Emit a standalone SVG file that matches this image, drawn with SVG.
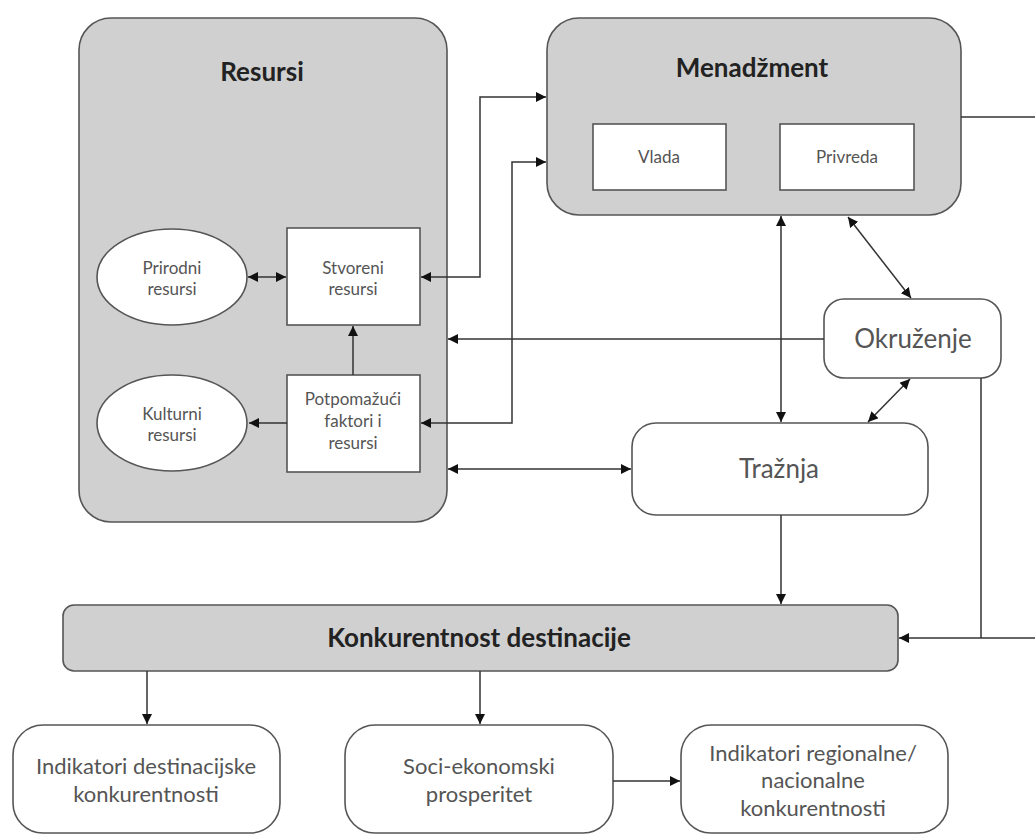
<svg xmlns="http://www.w3.org/2000/svg" width="1035" height="835" viewBox="0 0 1035 835">
<defs>
<marker id="ah" viewBox="0 0 10 10" refX="10" refY="5" markerWidth="10" markerHeight="10" markerUnits="userSpaceOnUse" orient="auto-start-reverse">
<path d="M0,0 L10,5 L0,10 z" fill="#111"/>
</marker>
<style>
.grp{fill:#d0d0d0;stroke:#555;stroke-width:1.6}
.wb{fill:#fff;stroke:#555;stroke-width:1.6}
.ln{fill:none;stroke:#333;stroke-width:1.5}
.t{font-family:Lato,"Open Sans","Liberation Sans",sans-serif;fill:#555;text-anchor:middle}
.b{font-family:Lato,"Open Sans","Liberation Sans",sans-serif;fill:#222;font-weight:bold;text-anchor:middle;font-size:26px}
.s{font-size:17px}
.m{font-size:22px}
.l{font-size:26px}
</style>
</defs>
<rect width="1035" height="835" fill="#fff"/>
<g id="resursi">
<rect class="grp" x="79" y="18" width="368" height="504" rx="32"/>
<text class="b" x="262" y="81">Resursi</text>
</g>
<g id="menadzment">
<rect class="grp" x="547" y="18" width="414" height="197" rx="32"/>
<text class="b" x="752" y="77">Menadžment</text>
</g>
<g id="vlada">
<rect class="wb" x="593" y="124" width="133" height="66"/>
<text class="t s" x="659" y="163">Vlada</text>
</g>
<g id="privreda">
<rect class="wb" x="780" y="124" width="134" height="66"/>
<text class="t s" x="847" y="163">Privreda</text>
</g>
<g id="prirodni">
<ellipse class="wb" cx="172" cy="277" rx="75" ry="48"/>
<text class="t s" x="172" y="274">Prirodni</text>
<text class="t s" x="172" y="295">resursi</text>
</g>
<g id="stvoreni">
<rect class="wb" x="287" y="228" width="133" height="97"/>
<text class="t s" x="353" y="274">Stvoreni</text>
<text class="t s" x="353" y="295">resursi</text>
</g>
<g id="kulturni">
<ellipse class="wb" cx="172" cy="423" rx="75" ry="48"/>
<text class="t s" x="172" y="420">Kulturni</text>
<text class="t s" x="172" y="441">resursi</text>
</g>
<g id="potpomazuci">
<rect class="wb" x="287" y="375" width="133" height="97"/>
<text class="t s" x="353" y="405">Potpomažući</text>
<text class="t s" x="353" y="427">faktori i</text>
<text class="t s" x="353" y="449">resursi</text>
</g>
<g id="okruzenje">
<rect class="wb" x="824" y="299" width="177" height="79" rx="20"/>
<text class="t l" x="913" y="348">Okruženje</text>
</g>
<g id="traznja">
<rect class="wb" x="632" y="423" width="296" height="92" rx="24"/>
<text class="t l" x="779" y="478">Tražnja</text>
</g>
<g id="konkurentnost">
<rect class="grp" x="63" y="605" width="835" height="66" rx="11"/>
<text class="b" x="479" y="647">Konkurentnost destinacije</text>
</g>
<g id="indikatori-dest">
<rect class="wb" x="13" y="725" width="267" height="108" rx="30"/>
<text class="t m" x="146" y="774">Indikatori destinacijske</text>
<text class="t m" x="146" y="802">konkurentnosti</text>
</g>
<g id="soci">
<rect class="wb" x="345" y="725" width="268" height="108" rx="30"/>
<text class="t m" x="479" y="774">Soci-ekonomski</text>
<text class="t m" x="479" y="802">prosperitet</text>
</g>
<g id="indikatori-reg">
<rect class="wb" x="681" y="725" width="267" height="108" rx="30"/>
<text class="t m" x="813" y="761">Indikatori regionalne/</text>
<text class="t m" x="813" y="788">nacionalne</text>
<text class="t m" x="813" y="816">konkurentnosti</text>
</g>
<g id="connectors">
<line class="ln" x1="248" y1="277" x2="286" y2="277" marker-start="url(#ah)" marker-end="url(#ah)"/>
<line class="ln" x1="353" y1="375" x2="353" y2="326" marker-end="url(#ah)"/>
<line class="ln" x1="287" y1="423" x2="249" y2="423" marker-end="url(#ah)"/>
<polyline class="ln" points="421,277 480,277 480,97 546,97" marker-start="url(#ah)" marker-end="url(#ah)"/>
<polyline class="ln" points="421,423 512,423 512,162 546,162" marker-start="url(#ah)" marker-end="url(#ah)"/>
<line class="ln" x1="824" y1="339" x2="448" y2="339" marker-end="url(#ah)"/>
<line class="ln" x1="448" y1="469" x2="631" y2="469" marker-start="url(#ah)" marker-end="url(#ah)"/>
<line class="ln" x1="781" y1="216" x2="781" y2="422" marker-start="url(#ah)" marker-end="url(#ah)"/>
<line class="ln" x1="848" y1="217" x2="911" y2="298" marker-start="url(#ah)" marker-end="url(#ah)"/>
<line class="ln" x1="910" y1="379" x2="868" y2="422" marker-start="url(#ah)" marker-end="url(#ah)"/>
<line class="ln" x1="781" y1="515" x2="781" y2="604" marker-end="url(#ah)"/>
<line class="ln" x1="961" y1="117" x2="1035" y2="117"/>
<polyline class="ln" points="981,378 981,638"/>
<line class="ln" x1="1035" y1="638" x2="899" y2="638" marker-end="url(#ah)"/>
<line class="ln" x1="147" y1="671" x2="147" y2="724" marker-end="url(#ah)"/>
<line class="ln" x1="480" y1="671" x2="480" y2="724" marker-end="url(#ah)"/>
<line class="ln" x1="613" y1="781" x2="680" y2="781" marker-end="url(#ah)"/>
</g>
</svg>
